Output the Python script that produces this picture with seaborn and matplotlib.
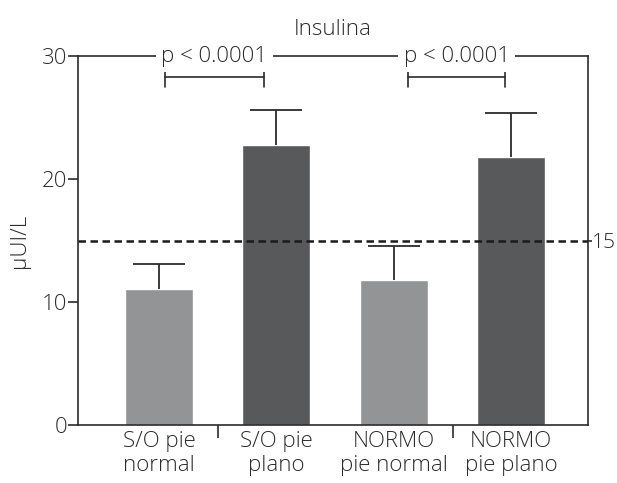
import matplotlib
matplotlib.use("Agg")
import matplotlib.pyplot as plt
import seaborn as sns
import pandas as pd

# ------------------------------------------------
# DATA
# ------------------------------------------------

groups = ["S/O pie\nnormal", "S/O pie\nplano", "NORMO\npie normal", "NORMO\npie plano"]
means = [11.05, 22.75, 11.8, 21.8]
sem = [2.05, 2.85, 2.75, 3.6]
bar_colors = ["#939497", "#58595b", "#939497", "#58595b"]
reference_level = 15
p_label = "p < 0.0001"
comparisons = [(0.05, 0.89), (2.12, 2.95)]

INK = "#2b2b2b"

# ------------------------------------------------
# PLOT
# ------------------------------------------------

sns.set_style("ticks")
plt.rcParams["font.family"] = ["Open Sans", "DejaVu Sans"]
plt.rcParams["font.size"] = 16
plt.rcParams["font.weight"] = "light"
plt.rcParams["axes.titleweight"] = "light"
plt.rcParams["axes.labelweight"] = "light"

fig = plt.figure(figsize=(6.17, 4.83), dpi=100)
ax = fig.add_axes([0.1264, 0.120, 0.826, 0.764])

df = pd.DataFrame({"group": groups, "value": means})

sns.barplot(data=df, x="group", y="value", hue="group", palette=bar_colors,
            legend=False, errorbar=None, width=0.58, ax=ax)

# upper error bars only
_, caps, _ = ax.errorbar(range(len(groups)), means, yerr=[[0] * len(sem), sem],
                         fmt="none", ecolor=INK, elinewidth=1.3,
                         capsize=19, capthick=1.3)
caps[0].set_visible(False)

ax.axhline(reference_level, color="#1a1a1a", lw=1.8, ls=(0, (3, 1.8)), zorder=3)

ax.set_ylim(0, 30)
ax.set_xlim(-0.69, 3.65)
ax.set_yticks([0, 10, 20, 30])
ax.set_ylabel("μUI/L", color=INK, labelpad=8)
ax.set_xlabel("")
ax.set_title("Insulina", color=INK, pad=15, fontsize=16)

# x ticks: labels only at categories, marks between some groups
ax.tick_params(axis="x", length=0, pad=4, colors=INK)
ax.set_xticks([0.5, 2.5], minor=True)
ax.tick_params(axis="x", which="minor", length=9, width=1.2, color=INK)
ax.tick_params(axis="y", length=7, width=1.2, pad=1, color=INK, labelcolor=INK)

for side in ["left", "bottom", "right", "top"]:
    ax.spines[side].set_visible(True)
    ax.spines[side].set_color(INK)
    ax.spines[side].set_linewidth(1.2)

# "15" label on right side
ax2 = ax.twinx()
ax2.set_ylim(ax.get_ylim())
ax2.set_yticks([reference_level])
ax2.tick_params(axis="y", length=3, width=1.2, color=INK, labelcolor=INK,
                pad=0, labelsize=15)
for side in ax2.spines:
    ax2.spines[side].set_visible(False)

# significance brackets and labels
for a, b in comparisons:
    ax.plot([a, b], [28.3, 28.3], color=INK, lw=1.2, clip_on=False)
    for x in (a, b):
        ax.plot([x, x], [27.5, 29.1], color=INK, lw=1.2, clip_on=False)
    ax.text((a + b) / 2, 30, p_label, ha="center", va="center", color=INK,
            bbox=dict(facecolor="white", edgecolor="none", pad=4), zorder=5, clip_on=False)

fig.savefig("out.png", dpi=100)
